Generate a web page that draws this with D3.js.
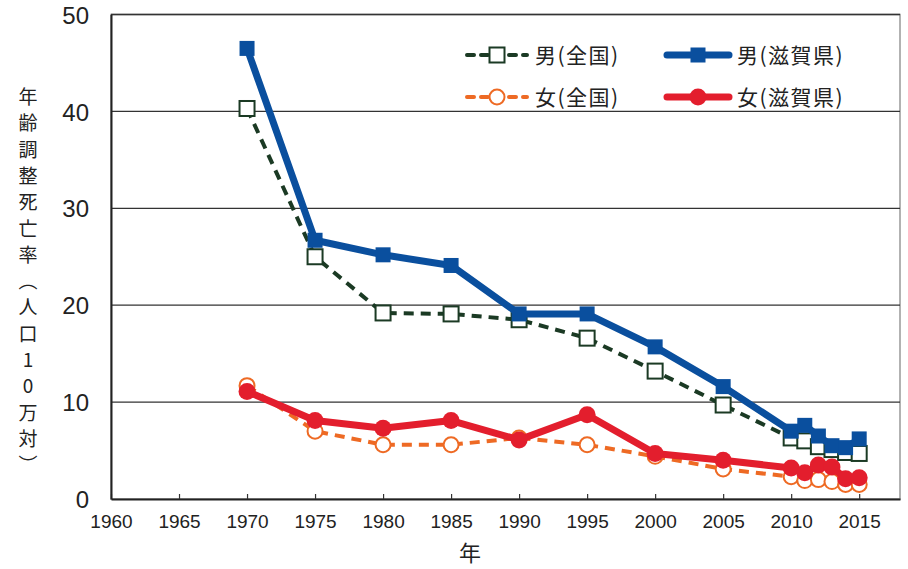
<!DOCTYPE html>
<html><head><meta charset="utf-8">
<script src="https://cdn.jsdelivr.net/npm/d3@7"></script>
<style>body{margin:0;background:#fff}svg{display:block}</style>
</head><body>
<script>
const years = [1970,1975,1980,1985,1990,1995,2000,2005,2010,2011,2012,2013,2014,2015];
const maleNational = [40.3,25.0,19.2,19.1,18.5,16.6,13.2,9.7,6.3,6.0,5.4,5.1,4.8,4.7];
const maleShiga    = [46.5,26.7,25.2,24.1,19.1,19.1,15.7,11.6,7.0,7.6,6.5,5.5,5.3,6.2];
const femaleNational = [11.7,7.0,5.6,5.6,6.3,5.6,4.4,3.1,2.3,1.9,2.0,1.8,1.5,1.5];
const femaleShiga    = [11.1,8.1,7.3,8.1,6.1,8.7,4.7,4.0,3.2,2.7,3.5,3.3,2.1,2.2];
const xTicks = [1960,1965,1970,1975,1980,1985,1990,1995,2000,2005,2010,2015];
const yTicks = [0,10,20,30,40,50];
const seriesNames = ["男(全国)","男(滋賀県)","女(全国)","女(滋賀県)"];
const yTitle = ["年","齢","調","整","死","亡","率","︵","人","口","1","0","万","対","︶"];
const xTitle = "年";

const W=908,H=569;
const m={l:111,r:8,t:14.5,b:70};
const svg=d3.select("body").append("svg").attr("width",W).attr("height",H);
const x=d3.scaleLinear().domain([1960,2018]).range([m.l,W-m.r]);
const y=d3.scaleLinear().domain([0,50]).range([H-m.b,m.t]);
const numFont="'Liberation Sans',Arial,sans-serif";
const jpFont="'Noto Sans CJK JP',sans-serif";

// frame
svg.append("rect").attr("x",x(1960)).attr("y",y(50)).attr("width",x(2018)-x(1960)).attr("height",y(0)-y(50))
  .attr("fill","none").attr("stroke","#999").attr("stroke-width",1.5);
// gridlines
svg.append("g").selectAll("line").data(yTicks.filter(d=>d>0)).join("line")
  .attr("x1",x(1960)).attr("x2",x(2018)).attr("y1",d=>y(d)).attr("y2",d=>y(d))
  .attr("stroke","#333").attr("stroke-width",1.3);
// axes
const gx=svg.append("g").attr("transform",`translate(0,${y(0)})`)
  .call(d3.axisBottom(x).tickValues(xTicks).tickFormat(d3.format("d")).tickSizeInner(-5).tickSizeOuter(0).tickPadding(16));
gx.select(".domain").attr("stroke","#222").attr("stroke-width",2);
gx.selectAll(".tick line").attr("stroke","#333").attr("stroke-width",1.2);
gx.selectAll("text").attr("font-family",numFont).attr("font-size",19).attr("fill","#222");
const gy=svg.append("g").attr("transform",`translate(${x(1960)},0)`)
  .call(d3.axisLeft(y).tickValues(yTicks).tickSize(0).tickPadding(22));
gy.select(".domain").attr("stroke","#222").attr("stroke-width",2);
gy.selectAll("text").attr("font-family",numFont).attr("font-size",24).attr("fill","#222").attr("dy","0.36em");

// titles
svg.append("g").selectAll("text").data(yTitle).join("text")
  .attr("x",28).attr("y",(d,i)=>104+i*26.3).attr("text-anchor","middle")
  .attr("font-family",jpFont).attr("font-size",19).attr("fill","#222").text(d=>d);
svg.append("text").attr("x",470).attr("y",561).attr("text-anchor","middle")
  .attr("font-family",jpFont).attr("font-size",22).attr("fill","#222").text(xTitle);

const cfg=[
 {vals:maleNational,color:"#1b3a24",width:4,dash:"10,7",marker:"square",fill:"#fff",sw:2},
 {vals:femaleNational,color:"#ee6a24",width:4,dash:"10,7",marker:"circle",fill:"#fff",sw:2},
 {vals:maleShiga,color:"#0a4f9e",width:7,dash:null,marker:"square",fill:"#0a4f9e",sw:0},
 {vals:femaleShiga,color:"#e31e2d",width:7,dash:null,marker:"circle",fill:"#e31e2d",sw:0}
];
const line=d3.line().x(d=>x(d[0])).y(d=>y(d[1]));
function marker(g,type,cx,cy,c){
  if(type==="square"){
    g.append("rect").attr("x",cx-7.5).attr("y",cy-7.5).attr("width",15).attr("height",15)
     .attr("fill",c.fill).attr("stroke",c.sw?c.color:"none").attr("stroke-width",c.sw);
  } else {
    g.append("circle").attr("cx",cx).attr("cy",cy).attr("r",c.sw?7.5:8.5)
     .attr("fill",c.fill).attr("stroke",c.sw?c.color:"none").attr("stroke-width",c.sw);
  }
}
cfg.forEach(c=>{
  const pts=years.map((yr,i)=>[yr,c.vals[i]]);
  const g=svg.append("g");
  g.append("path").attr("d",line(pts)).attr("fill","none").attr("stroke",c.color)
   .attr("stroke-width",c.width).attr("stroke-dasharray",c.dash).attr("stroke-linejoin","round");
  pts.forEach(p=>marker(g,c.marker,x(p[0]),y(p[1]),c));
});

// legend
const leg=[
 {name:seriesNames[0],c:cfg[0],lx:467,ly:55},
 {name:seriesNames[1],c:cfg[2],lx:667,ly:55},
 {name:seriesNames[2],c:cfg[1],lx:467,ly:97},
 {name:seriesNames[3],c:cfg[3],lx:667,ly:97}
];
leg.forEach(l=>{
  const g=svg.append("g");
  const len=l.c.dash?60:62;
  g.append("line").attr("x1",l.lx).attr("x2",l.lx+len).attr("y1",l.ly).attr("y2",l.ly)
   .attr("stroke",l.c.color).attr("stroke-width",l.c.width).attr("stroke-dasharray",l.c.dash?"7,7":null)
   .attr("stroke-linecap","round");
  marker(g,l.c.marker,l.lx+len/2,l.ly,l.c);
  g.append("text").attr("x",l.lx+len+8).attr("y",l.ly).attr("dy","0.36em")
   .attr("font-family",jpFont).attr("font-size",21).attr("letter-spacing",1.5).attr("fill","#222").text(l.name);
});
</script>
</body></html>
